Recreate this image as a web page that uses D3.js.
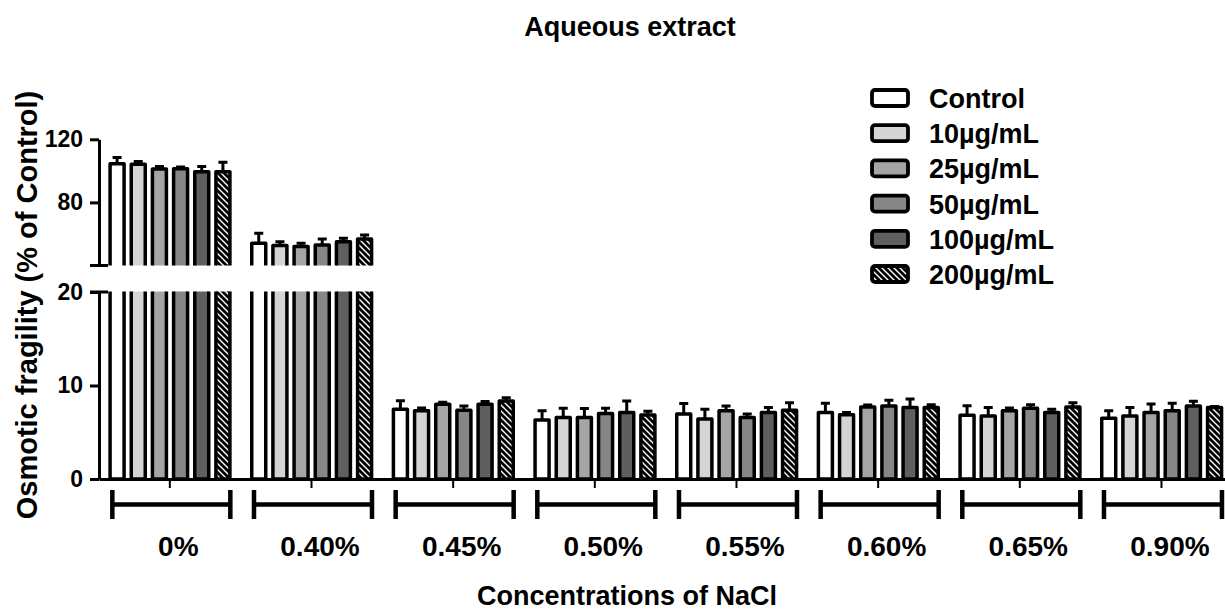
<!DOCTYPE html>
<html>
<head>
<meta charset="utf-8">
<script src="https://cdn.jsdelivr.net/npm/d3@7/dist/d3.min.js"></script>
<style>
  html, body { margin: 0; padding: 0; background: #fff; }
  svg { display: block; font-family: "Liberation Sans", Arial, Helvetica, sans-serif; font-weight: bold; }
</style>
</head>
<body>
<script>
// ---- data ----
const categories = ["0%", "0.40%", "0.45%", "0.50%", "0.55%", "0.60%", "0.65%", "0.90%"];
const seriesNames = ["Control", "10µg/mL", "25µg/mL", "50µg/mL", "100µg/mL", "200µg/mL"];

const controlVals = [104.5, 54.1, 7.47, 6.30, 6.94, 7.11, 6.83, 6.51];
const ug10Vals    = [104.2, 52.6, 7.29, 6.58, 6.41, 6.86, 6.75, 6.75];
const ug25Vals    = [101.1, 52.0, 8.00, 6.58, 7.29, 7.71, 7.29, 7.11];
const ug50Vals    = [101.4, 53.0, 7.36, 7.00, 6.58, 7.82, 7.58, 7.29];
const ug100Vals   = [99.5, 55.1, 8.00, 7.11, 7.11, 7.65, 7.11, 7.82];
const ug200Vals   = [99.5, 56.8, 8.35, 6.85, 7.36, 7.65, 7.71, 7.65];

const controlErr = [3.9, 6.3, 0.9, 1.0, 1.13, 1.0, 1.0, 0.8];
const ug10Err    = [1.7, 2.5, 0.3, 1.0, 1.06, 0.25, 0.9, 0.9];
const ug25Err    = [1.6, 2.1, 0.2, 0.95, 0.53, 0.2, 0.3, 0.9];
const ug50Err    = [1.0, 3.8, 0.45, 0.58, 0.36, 0.6, 0.35, 0.8];
const ug100Err   = [3.2, 2.1, 0.3, 1.24, 0.53, 0.9, 0.35, 0.5];
const ug200Err   = [5.9, 2.6, 0.35, 0.4, 0.8, 0.3, 0.45, 0.1];

const upperTicks = [80, 120];
const lowerTicks = [0, 10, 20];

const titleText = "Aqueous extract";
const xTitleText = "Concentrations of NaCl";
const yTitleText = "Osmotic fragility (% of Control)";

// ---- build ----
const allVals = [controlVals, ug10Vals, ug25Vals, ug50Vals, ug100Vals, ug200Vals];
const allErrs = [controlErr, ug10Err, ug25Err, ug50Err, ug100Err, ug200Err];
const fills = ["#ffffff", "#d4d4d4", "#a5a5a8", "#868686", "#5f5f5f", "url(#hatch)"];

const rows = [];
categories.forEach((c, i) => {
  seriesNames.forEach((s, j) => {
    rows.push({ cat: c, ser: s, j: j, v: allVals[j][i], e: allErrs[j][i] });
  });
});

const W = 1225, H = 610;
const svg = d3.select("body").append("svg").attr("width", W).attr("height", H);
const defs = svg.append("defs");

const pat = defs.append("pattern").attr("id", "hatch")
  .attr("patternUnits", "userSpaceOnUse").attr("width", 6).attr("height", 6);
pat.append("rect").attr("width", 6).attr("height", 6).attr("fill", "#000");
pat.append("path").attr("d", "M-1,-1L7,7M-1,5L1,7M5,-1L7,1")
  .attr("stroke", "#fff").attr("stroke-width", 1.4);

defs.append("clipPath").attr("id", "clipU").append("rect")
  .attr("x", 0).attr("y", 0).attr("width", W).attr("height", 265.5);
defs.append("clipPath").attr("id", "clipL").append("rect")
  .attr("x", 0).attr("y", 291.5).attr("width", W).attr("height", 200);

const x = d3.scaleBand().domain(categories).range([99, 1232.3]);
const xs = d3.scaleBand().domain(seriesNames).range([7.5, 134.5]);
const yU = d3.scaleLinear().domain([40, 120]).range([265.5, 139.3]);
const yL = d3.scaleLinear().domain([0, 20]).range([479, 292]);

const barW = 14, sw = 3.5;
const cxOf = d => x(d.cat) + xs(d.ser) + xs.bandwidth() / 2;

// upper bars
svg.append("g").attr("clip-path", "url(#clipU)")
  .selectAll("rect").data(rows.filter(d => d.v > 40)).join("rect")
  .attr("x", d => cxOf(d) - barW / 2).attr("width", barW)
  .attr("y", d => yU(d.v)).attr("height", d => 300 - yU(d.v))
  .attr("fill", d => fills[d.j]).attr("stroke", "#000").attr("stroke-width", sw)
  .attr("stroke-linejoin", "round");

// lower bars
svg.append("g").attr("clip-path", "url(#clipL)")
  .selectAll("rect").data(rows).join("rect")
  .attr("x", d => cxOf(d) - barW / 2).attr("width", barW)
  .attr("y", d => d.v > 20 ? 280 : yL(d.v))
  .attr("height", d => yL(0) - (d.v > 20 ? 280 : yL(d.v)))
  .attr("fill", d => fills[d.j]).attr("stroke", "#000").attr("stroke-width", sw)
  .attr("stroke-linejoin", "round");

// error bars
const yOf = v => v > 20 ? yU(v) : yL(v);
const eb = svg.append("g").attr("stroke", "#000").attr("stroke-width", 3).attr("fill", "none");
eb.selectAll("path").data(rows).join("path")
  .attr("d", d => {
    const cx = cxOf(d), y0 = yOf(d.v), y1 = yOf(d.v + d.e);
    return `M${cx},${y0}V${y1}M${cx - 4.5},${y1}H${cx + 4.5}`;
  });

// y axes
const axU = svg.append("g").attr("transform", "translate(99,0)")
  .call(d3.axisLeft(yU).tickValues(upperTicks).tickSize(9).tickSizeOuter(0).tickPadding(7));
const axL = svg.append("g").attr("transform", "translate(99,0)")
  .call(d3.axisLeft(yL).tickValues(lowerTicks).tickSize(9).tickSizeOuter(0).tickPadding(7));
[axU, axL].forEach(a => {
  a.select(".domain").attr("stroke", "#000").attr("stroke-width", 3);
  a.selectAll(".tick line").attr("stroke", "#000").attr("stroke-width", 3);
  a.selectAll(".tick text").attr("fill", "#000")
    .style("font-size", "23px").style("font-weight", "bold")
    .style("font-family", "'Liberation Sans', Arial, sans-serif");
});
// break caps
svg.append("g").attr("stroke", "#000").attr("stroke-width", 3)
  .selectAll("line").data([yU(40), yL(20)]).join("line")
  .attr("x1", 90).attr("x2", 108).attr("y1", d => d).attr("y2", d => d);

// x axis
const axX = svg.append("g").attr("transform", `translate(0,${yL(0)})`)
  .call(d3.axisBottom(x).tickSize(9).tickSizeOuter(0).tickFormat(""));
axX.select(".domain").attr("stroke", "#000").attr("stroke-width", 3);
axX.selectAll(".tick line").attr("stroke", "#000").attr("stroke-width", 2);

// group brackets
const br = svg.append("g").attr("stroke", "#000").attr("stroke-width", 4.5).attr("fill", "none");
br.selectAll("path").data(categories).join("path")
  .attr("d", c => {
    const m = x(c) + x.bandwidth() / 2;
    const a = m - 57.5, b = m + 60.5;
    return `M${a},504.5H${b}M${a},490V519M${b},490V519`;
  });

// category labels
svg.append("g").selectAll("text").data(categories).join("text")
  .attr("x", c => x(c) + x.bandwidth() / 2 + 8.5).attr("y", 556)
  .attr("text-anchor", "middle").style("font-size", "28px").text(c => c);

// titles
svg.append("text").attr("x", 630).attr("y", 36).attr("text-anchor", "middle")
  .style("font-size", "27px").text(titleText);
svg.append("text").attr("x", 627).attr("y", 605).attr("text-anchor", "middle")
  .style("font-size", "27px").text(xTitleText);
svg.append("text").attr("transform", "translate(37,305) rotate(-90)")
  .attr("text-anchor", "middle").style("font-size", "29px").text(yTitleText);

// legend
const leg = svg.append("g");
const li = leg.selectAll("g").data(seriesNames).join("g")
  .attr("transform", (s, j) => `translate(0,${98 + j * 35.2})`);
li.append("rect").attr("x", 872).attr("y", -8).attr("width", 36).attr("height", 16).attr("rx", 3)
  .attr("fill", (s, j) => fills[j]).attr("stroke", "#000").attr("stroke-width", 3.8);
li.append("text").attr("x", 929).attr("y", 10).style("font-size", "27px").text(s => s);
</script>
</body>
</html>
